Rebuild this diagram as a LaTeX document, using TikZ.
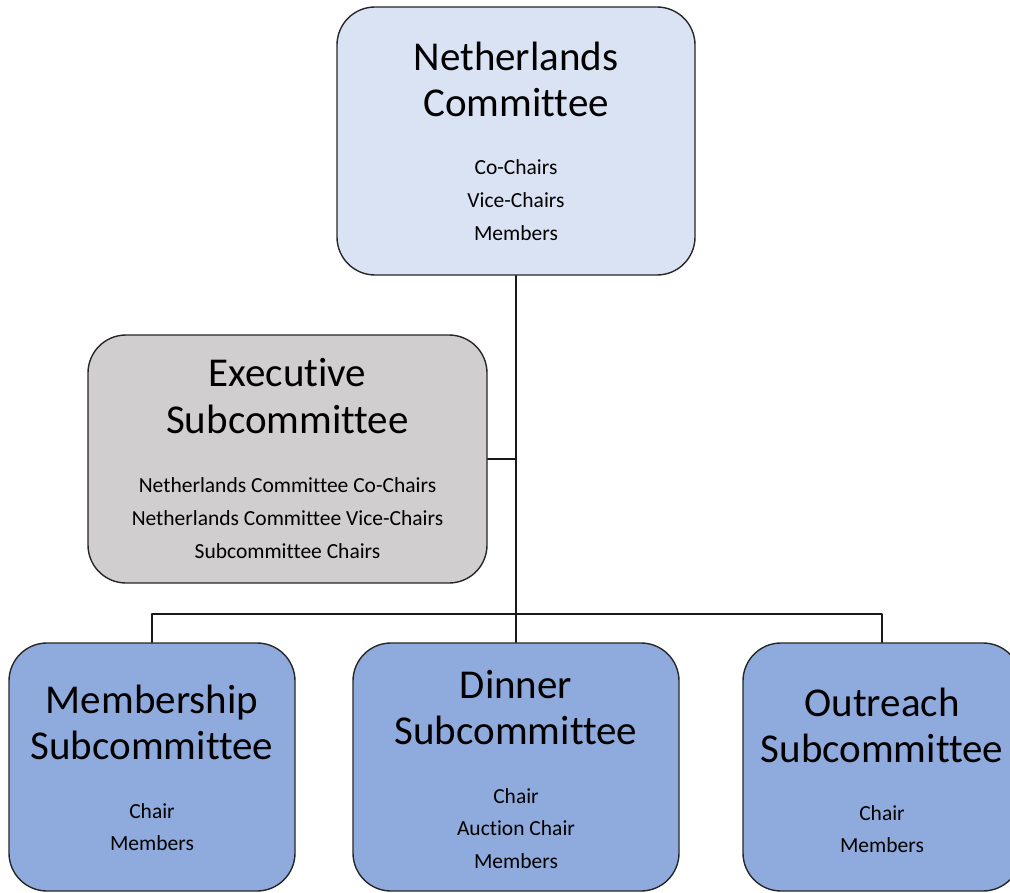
\documentclass[tikz,border=0pt]{standalone}
\usepackage{fontspec}
\setmainfont{Carlito}[Ligatures=NoCommon]

\definecolor{nlblue}{HTML}{DAE3F3}
\definecolor{execgray}{HTML}{D0CECE}
\definecolor{subblue}{HTML}{8FAADC}

\tikzset{
  box/.style={draw=black!85, line width=1.4pt, rounded corners=38pt, inner sep=0pt, minimum height=248pt},
  title/.style={anchor=base, font=\fontsize{41}{41}\selectfont},
  member/.style={anchor=base, font=\fontsize{21.5}{21.5}\selectfont},
  link/.style={draw=black!90, line width=1.5pt},
}

\begin{document}
\begin{tikzpicture}[line cap=round, line join=round, x=1pt, y=-1pt]
    \useasboundingbox (0,0) rectangle (1010,893);
    \clip (0,0) rectangle (1010,893);
    % boxes
    \node[box, fill=nlblue, minimum width=358pt, minimum height=268pt] (nl) at (516,141) {};
    \node[box, fill=execgray, minimum width=399pt] (exec) at (287.5,459) {};
    \node[box, fill=subblue, minimum width=286pt] (memb) at (152,767) {};
    \node[box, fill=subblue, minimum width=326pt] (dinner) at (516,767) {};
    \node[box, fill=subblue, minimum width=278pt] (outr) at (882,767) {};
    % connectors
    \coordinate (bus) at (516,614);
    \draw[link] (nl.south) -- (dinner.north);
    \draw[link] (exec.east) -- (exec.east -| nl.south);
    \draw[link] (memb.north) |- (bus) -| (outr.north);
    % titles
    \node[title] (nl-t1) at (516,71) {Netherlands};
    \node[title] (nl-t2) at (516,117) {Committee};
    \node[title] (exec-t1) at (287.5,387) {Executive};
    \node[title] (exec-t2) at (287.5,433) {Subcommittee};
    \node[title] (memb-t1) at (152,713) {Membership};
    \node[title] (memb-t2) at (152,759) {Subcommittee};
    \node[title] (dinner-t1) at (516,698) {Dinner};
    \node[title] (dinner-t2) at (516,744) {Subcommittee};
    \node[title] (outr-t1) at (882,716) {Outreach};
    \node[title] (outr-t2) at (882,762) {Subcommittee};
    % members
    \foreach \txt/\y in {Co-Chairs/175, Vice-Chairs/208, Members/241}
        \node[member] (nl-\y) at (516,\y) {\txt};
    \foreach \txt/\y in {Netherlands Committee Co-Chairs/492, Netherlands Committee Vice-Chairs/525, Subcommittee Chairs/558}
        \node[member] (exec-\y) at (287.5,\y) {\txt};
    \foreach \txt/\y in {Chair/818, Members/850}
        \node[member] (memb-\y) at (152,\y) {\txt};
    \foreach \txt/\y in {Chair/803, Auction Chair/835, Members/868}
        \node[member] (dinner-\y) at (516,\y) {\txt};
    \foreach \txt/\y in {Chair/820, Members/852}
        \node[member] (outr-\y) at (882,\y) {\txt};
\end{tikzpicture}
\end{document}
